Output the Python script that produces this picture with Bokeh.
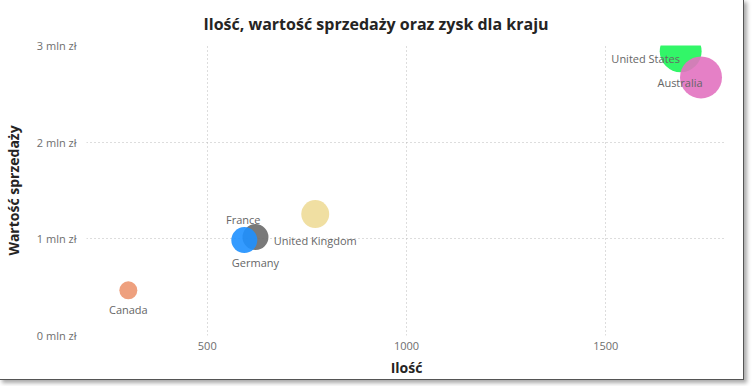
import math
from bokeh.plotting import figure
from bokeh.models import ColumnDataSource, FixedTicker, Range1d
from bokeh.core.properties import value
from bokeh.embed import file_html
from bokeh.resources import INLINE

# ---- data ----
countries = ["Canada", "Germany", "France", "United Kingdom", "United States", "Australia"]
quantity = [302, 621, 593, 771, 1688, 1739]
sales = [467000, 1018000, 987000, 1256000, 2940000, 2670000]
profit = [215000, 450000, 450000, 520000, 1170000, 1175000]
colors = ["#EC9670", "#6A6A6A", "#1E90FF", "#EEDC98", "#1CF558", "#E272C0"]

x_ticks = [500, 1000, 1500]
y_ticks = [0, 1000000, 2000000, 3000000]
y_tick_labels = ["0 mln zł", "1 mln zł", "2 mln zł", "3 mln zł"]

# label placement (screen px offsets relative to bubble centre)
label_dx = [0, 0, -1, 0, -35, -21]
label_dy = [19, 25, -21, 26, 7, 5]

max_profit = max(profit)
sizes = [42 * math.sqrt(v / max_profit) for v in profit]

src = ColumnDataSource(dict(country=countries, qty=quantity, sales=sales,
                            profit=profit, color=colors, size=sizes,
                            dx=label_dx, dy=label_dy))

FONT = "Open Sans"

p = figure(frame_width=640, frame_height=290, output_backend="svg", toolbar_location=None,
           x_range=Range1d(197, 1803), y_range=Range1d(0, 3000000),
           min_border_left=80, min_border_right=17, min_border_top=45,
           min_border_bottom=44,
           title="Ilość, wartość sprzedaży oraz zysk dla kraju")
p.styles = {"box-shadow": "0 0 0 1px #555, 3px 3px 4px 1px #aaa"}
p.outline_line_color = None
p.background_fill_color = "white"
p.border_fill_color = "white"

p.title.align = "left"
p.title.offset = 117
p.title.standoff = 21
p.title.text_font = FONT
p.title.text_font_style = "bold"
p.title.text_font_size = "16px"
p.title.text_color = "#252423"

p.xaxis.ticker = FixedTicker(ticks=x_ticks)
p.yaxis.ticker = FixedTicker(ticks=y_ticks)
p.yaxis.major_label_overrides = {t: l for t, l in zip(y_ticks, y_tick_labels)}
for ax in (p.xaxis, p.yaxis):
    ax.axis_line_color = None
    ax.major_tick_line_color = None
    ax.minor_tick_line_color = None
    ax.major_tick_out = 0
    ax.major_tick_in = 0
    ax.minor_tick_out = 0
    ax.minor_tick_in = 0
    ax.major_label_text_font = FONT
    ax.major_label_text_font_size = "11px"
    ax.major_label_text_color = "#6e6e6e"
    ax.axis_label_text_font = FONT
    ax.axis_label_text_font_style = "bold"
    ax.axis_label_text_font_size = "14px"
    ax.axis_label_text_color = "#252423"
p.xaxis.axis_label = "Ilość"
p.yaxis.axis_label = "Wartość sprzedaży"
p.xaxis.major_label_standoff = 6
p.yaxis.major_label_standoff = 10
p.xaxis.axis_label_standoff = 5
p.yaxis.axis_label_standoff = 11

for g in (p.xgrid, p.ygrid):
    g.grid_line_color = "#bbbbbb"
    g.grid_line_dash = "1 3"
    g.grid_line_width = 1
p.xgrid.ticker = FixedTicker(ticks=x_ticks)
p.ygrid.ticker = FixedTicker(ticks=y_ticks)

p.scatter("qty", "sales", size="size", source=src, fill_color="color",
          line_color=None, fill_alpha=0.9)
p.text("qty", "sales", text="country", source=src, x_offset="dx", y_offset="dy",
       text_align="center", text_baseline="middle", text_font=value(FONT),
       text_font_size="11px", text_color="#666666")

open("out.html", "w").write(file_html(p, INLINE))
